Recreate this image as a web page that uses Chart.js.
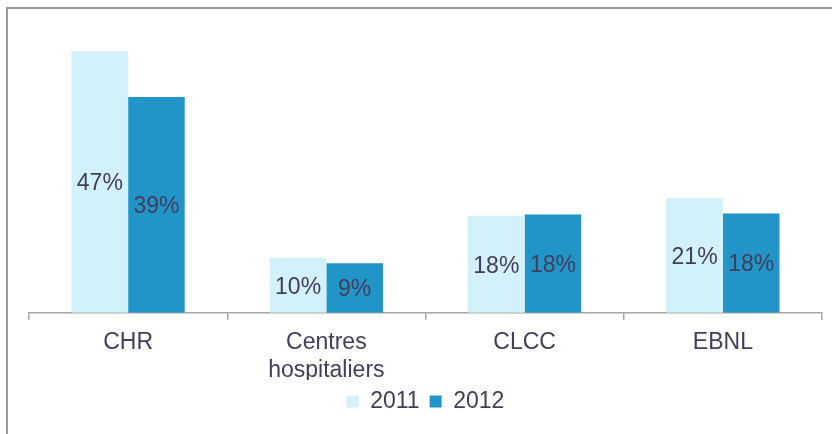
<!DOCTYPE html>
<html>
<head>
<meta charset="utf-8">
<script src="https://cdn.jsdelivr.net/npm/chart.js@4/dist/chart.umd.min.js"></script>
<style>
  body { margin: 0; background: #fff; overflow: hidden; }
  #frame { position: absolute; left: 6px; top: 7px; width: 900px; height: 500px;
           border-top: 2px solid #9a9a9a; border-left: 2px solid #9a9a9a; }
  #hospChart { position: absolute; left: 0; top: 0; }
</style>
</head>
<body>
<div id="frame"></div>
<canvas id="hospChart" width="832" height="434"></canvas>
<script>
// share by type of establishment
const categories = [['CHR'], ['Centres', 'hospitaliers'], ['CLCC'], ['EBNL']];
const values2011 = [47.4, 10.0, 17.6, 20.8];
const values2012 = [39.1, 9.0, 17.8, 18.0];
const seriesLabels = ['2011', '2012'];

const textColor = '#433d5c';
const fontFamily = "'Liberation Sans', Arial, sans-serif";

// percent labels in the middle of each bar
const barLabels = {
  id: 'barLabels',
  afterDatasetsDraw(chart) {
    const ctx = chart.ctx;
    ctx.save();
    ctx.font = '23px ' + fontFamily;
    ctx.fillStyle = textColor;
    ctx.textAlign = 'center';
    ctx.textBaseline = 'middle';
    chart.data.datasets.forEach((ds, i) => {
      chart.getDatasetMeta(i).data.forEach((bar, j) => {
        ctx.fillText(Math.round(ds.data[j]) + '%', bar.x, (bar.y + bar.base) / 2 + 2);
      });
    });
    ctx.restore();
  }
};

new Chart(document.getElementById('hospChart'), {
  type: 'bar',
  data: {
    labels: categories,
    datasets: [{
      label: seriesLabels[0],
      backgroundColor: '#d3f1fb',
      data: values2011
    }, {
      label: seriesLabels[1],
      backgroundColor: '#2194c8',
      data: values2012
    }]
  },
  options: {
    responsive: false,
    animation: false,
    layout: {
      padding: { left: 29, right: 10, top: 37, bottom: 11 }
    },
    datasets: {
      bar: { categoryPercentage: 0.571, barPercentage: 1.0 }
    },
    scales: {
      x: {
        grid: { display: true, drawOnChartArea: false, color: '#a6a6a6', lineWidth: 1.5, tickLength: 7, offset: true },
        border: { display: true, color: '#a6a6a6', width: 1.5 },
        ticks: { color: textColor, font: { family: fontFamily, size: 23 }, padding: 9 },
        // labels sit close to the legend, so let the axis box overlap it a bit
        afterFit: (scale) => { scale.height -= 13; }
      },
      y: {
        display: false,
        min: 0,
        max: 50
      }
    },
    plugins: {
      legend: {
        position: 'bottom',
        labels: {
          color: textColor,
          font: { family: fontFamily, size: 23 },
          boxWidth: 12,
          boxHeight: 12,
          padding: 10
        }
      },
      tooltip: { enabled: false }
    }
  },
  plugins: [barLabels]
});
</script>
</body>
</html>
